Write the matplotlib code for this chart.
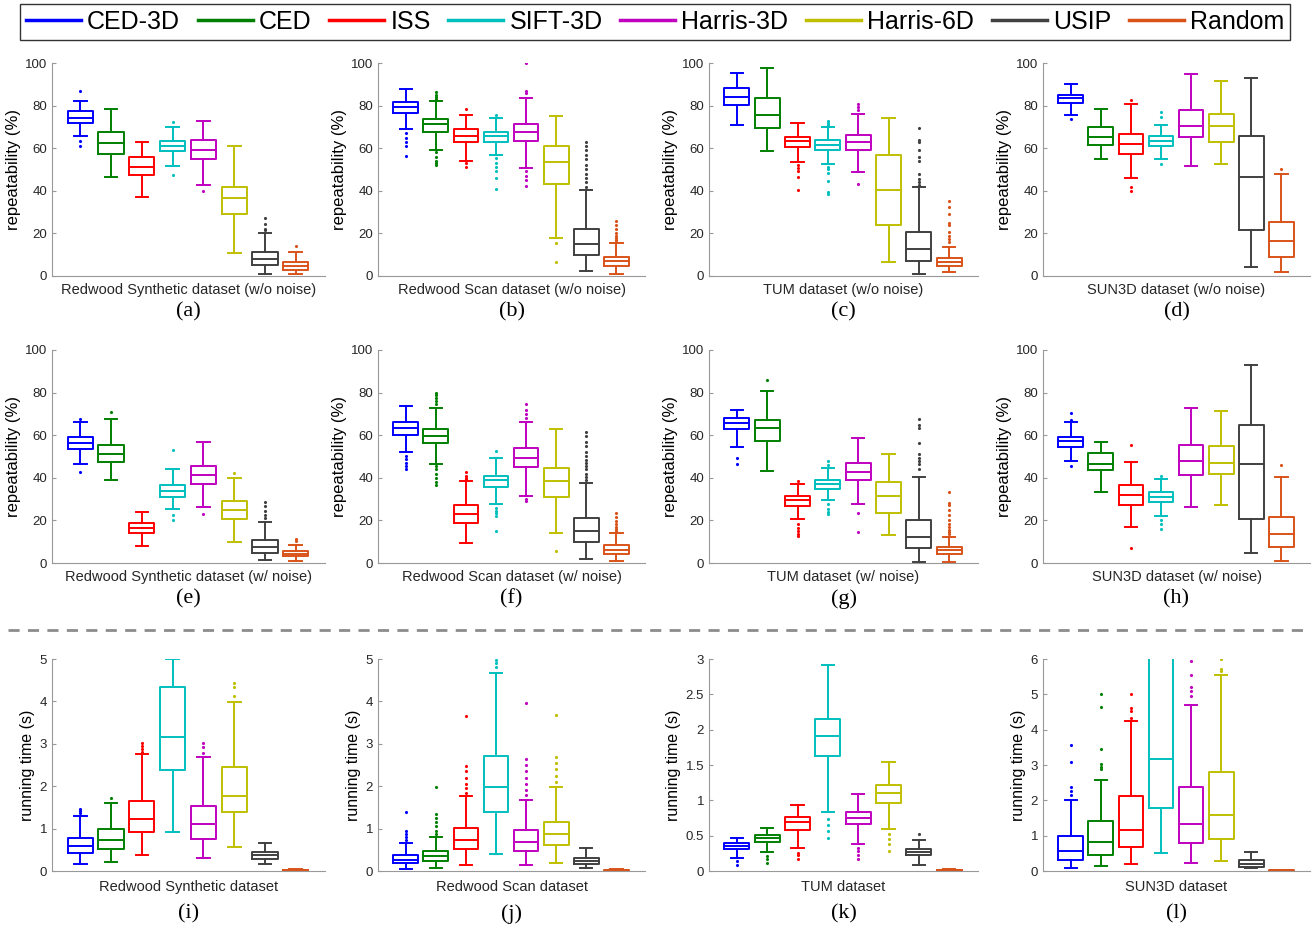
import matplotlib
matplotlib.use("Agg")
import matplotlib.pyplot as plt
from matplotlib.lines import Line2D
from matplotlib.ticker import FormatStrFormatter

plt.rcParams['font.family'] = ['Liberation Sans', 'DejaVu Sans']

methods = ["CED-3D", "CED", "ISS", "SIFT-3D", "Harris-3D", "Harris-6D", "USIP", "Random"]
colors = ["#0000ff", "#008000", "#ff0000", "#00bfbf", "#bf00bf", "#bfbf00", "#404040", "#d95319"]

# box stats per method: [whisker low, q1, median, q3, whisker high]
rep_a = [[65.9, 72.0, 74.3, 77.3, 82.0], [46.3, 57.3, 62.4, 67.8, 78.6], [37.1, 47.3, 51.3, 55.9, 62.8],
         [51.6, 58.5, 61.2, 63.4, 70.1], [42.9, 54.8, 59.0, 63.7, 72.6], [10.6, 29.1, 36.6, 41.9, 61.2],
         [1.1, 5.0, 8.0, 11.3, 20.0], [1.1, 3.0, 4.5, 6.4, 11.4]]
out_a = [[87, 63.4, 61], [], [], [72.3, 47.4], [39.9], [], [27.2, 24.6, 22.2, 21.4], [13.9]]

rep_b = [[68.9, 76.4, 79.5, 81.7, 87.7], [59.2, 67.8, 71.4, 73.9, 82.3], [54.2, 62.7, 65.9, 68.8, 75.8],
         [56.6, 63.1, 65.5, 67.7, 74.2], [50.8, 63.3, 67.5, 71.4, 83.6], [17.7, 43.0, 53.6, 60.8, 75.0],
         [2.2, 10.0, 15.2, 21.9, 40.3], [1.1, 4.7, 6.9, 9.1, 15.3]]
out_b = [[67, 65, 63, 61, 56.5], [86.4, 85, 84, 83, 58, 56, 54, 53, 52], [78.6, 53, 51],
         [75.8, 55.5, 53, 51, 49.5, 46, 40.8], [100, 86.7, 85.8, 49.2, 47, 45, 42.2], [15.6, 6.6],
         [63, 61, 59, 57, 55, 52, 50, 48, 46, 44, 42], [26, 24, 22, 20, 19, 18, 17, 16]]

rep_c = [[71.0, 80.4, 84.0, 88.3, 95.1], [58.7, 69.5, 75.7, 83.7, 97.8], [53.5, 60.6, 63.2, 65.1, 71.8],
         [52.6, 59.3, 61.7, 63.8, 70.0], [48.8, 59.2, 62.8, 66.2, 76.0], [6.4, 24.1, 40.2, 57.0, 74.2],
         [0.8, 7.0, 12.5, 20.7, 41.6], [1.9, 4.5, 6.6, 8.5, 13.8]]
out_c = [[], [], [52, 50.5, 49.5, 46.5, 40.4], [73, 72, 71, 51, 50, 48.5, 44.5, 39.5, 38.5],
         [80.9, 79.5, 78, 43.4], [], [69.5, 64, 63, 59, 56, 54, 48, 45.7, 44, 42.7],
         [35.2, 32.4, 29, 25, 23.8, 20.7, 19, 17.5, 16]]

rep_d = [[75.7, 81.4, 83.6, 85.1, 90.0], [54.8, 61.3, 65.3, 70.0, 78.6], [46.0, 57.3, 61.8, 66.8, 80.8],
         [55.1, 60.9, 63.5, 65.6, 70.7], [51.6, 65.1, 70.4, 77.8, 94.7], [52.7, 62.8, 70.6, 76.2, 91.4],
         [4.1, 21.6, 46.6, 65.7, 92.8], [1.9, 8.8, 16.4, 25.2, 48.0]]
out_d = [[73.9], [], [82.8, 41.8, 40], [76.8, 74.6, 52.7], [], [], [], [50.4]]

rep_e = [[46.4, 53.6, 56.3, 59.1, 66.3], [39.2, 47.2, 51.4, 55.6, 67.4], [8.0, 14.1, 16.5, 18.7, 23.8],
         [25.2, 31.0, 34.0, 36.7, 44.0], [26.5, 37.3, 41.4, 45.5, 56.7], [9.9, 20.8, 25.1, 29.0, 39.8],
         [1.3, 4.7, 7.4, 10.7, 19.1], [0.8, 3.1, 4.4, 5.5, 8.6]]
out_e = [[67.6, 42.9], [71], [], [53, 22.4, 20.4], [23.2], [42.3], [28.7, 26.8, 24.5, 22.4, 21.3], [11.4, 10.2]]

rep_f = [[52.0, 60.2, 63.6, 66.1, 73.8], [46.6, 56.4, 59.8, 63.1, 72.7], [9.5, 19.0, 23.0, 27.0, 38.3],
         [27.5, 35.6, 38.8, 40.9, 49.1], [31.6, 45.2, 49.4, 53.9, 66.1], [14.2, 30.9, 38.6, 44.4, 62.7],
         [1.9, 10.0, 14.8, 21.1, 37.7], [0.9, 4.2, 6.1, 8.4, 14.2]]
out_f = [[50.3, 48.8, 47, 45.5, 44], [80, 79, 77.5, 76, 74.5, 45.6, 44, 42, 40, 38, 36.7], [42.5, 41, 40, 39.4],
         [52.7, 26, 24.5, 23.5, 22, 15.2], [74.5, 72, 70, 68.3, 30, 29], [5.5],
         [61.7, 59.5, 57, 55, 52, 50, 48.5, 47, 45.5, 44, 42, 40.5, 39], [23.7, 21.5, 19.8, 18.5, 17, 16, 15.2]]

rep_g = [[54.5, 62.7, 65.9, 68.3, 71.7], [43.1, 57.3, 63.6, 67.3, 80.9], [20.5, 26.9, 29.4, 31.6, 36.9],
         [29.4, 34.7, 36.9, 38.8, 44.4], [27.8, 39.2, 42.7, 46.9, 58.6], [13.1, 23.4, 31.4, 38.1, 51.3],
         [0.5, 6.9, 12.3, 20.2, 40.5], [0.5, 4.2, 6.1, 7.7, 12.0]]
out_g = [[49.5, 46.7], [86], [38.4, 18.3, 16.5, 15, 13.8, 12.5], [48.1, 45.9, 27.6, 25.5, 24, 23],
         [23.3, 14.7], [], [67.8, 65, 63.3, 56.2, 51, 49.5, 48, 46.5, 44],
         [33.1, 28.4, 27, 25, 22.5, 20, 18.5, 17, 15.5, 14.4, 13.5]]

rep_h = [[48.0, 54.5, 57.1, 59.2, 66.1], [33.4, 43.6, 46.7, 51.6, 56.9], [16.8, 27.4, 31.8, 36.8, 47.3],
         [22.3, 28.8, 31.2, 33.2, 39.5], [26.3, 41.2, 48.1, 55.5, 72.9], [27.1, 42.0, 47.0, 55.0, 71.3],
         [4.9, 20.8, 46.4, 64.7, 92.9], [0.9, 7.7, 13.8, 21.5, 40.4]]
out_h = [[70.5, 67.1, 45.6], [], [55.6, 7.2], [40.9, 20.1, 18.5, 16.1], [], [], [], [46.1]]

time_i = [[0.17, 0.42, 0.59, 0.78, 1.29], [0.22, 0.51, 0.73, 0.99, 1.61], [0.38, 0.92, 1.23, 1.65, 2.76],
          [0.92, 2.38, 3.17, 4.34, 5.0], [0.31, 0.76, 1.11, 1.54, 2.69], [0.57, 1.38, 1.78, 2.46, 3.99],
          [0.16, 0.29, 0.38, 0.45, 0.66], [0.01, 0.015, 0.02, 0.03, 0.05]]
tout_i = [[1.47, 1.42, 1.37], [1.72], [3.03, 2.95, 2.87, 2.8], [], [3.03, 2.92, 2.78], [4.44, 4.35, 4.13], [], []]

time_j = [[0.05, 0.2, 0.27, 0.38, 0.65], [0.07, 0.23, 0.35, 0.46, 0.8], [0.15, 0.51, 0.74, 1.02, 1.76],
          [0.41, 1.39, 1.98, 2.71, 4.68], [0.15, 0.48, 0.69, 0.96, 1.68], [0.18, 0.61, 0.87, 1.16, 1.98],
          [0.07, 0.17, 0.23, 0.3, 0.54], [0.005, 0.01, 0.015, 0.02, 0.04]]
tout_j = [[1.4, 0.95, 0.88, 0.8, 0.72], [1.98, 1.34, 1.25, 1.15, 1.05, 0.95, 0.88],
          [3.65, 2.48, 2.35, 2.2, 2.05, 1.95, 1.85], [4.98, 4.9, 4.8],
          [3.96, 2.64, 2.5, 2.35, 2.2, 2.05, 1.9, 1.8], [3.68, 2.69, 2.55, 2.4, 2.25, 2.1], [], []]

time_k = [[0.19, 0.31, 0.36, 0.39, 0.47], [0.27, 0.41, 0.46, 0.51, 0.61], [0.32, 0.58, 0.69, 0.77, 0.94],
          [0.83, 1.63, 1.91, 2.15, 2.92], [0.38, 0.66, 0.75, 0.83, 1.09], [0.6, 0.96, 1.1, 1.21, 1.54],
          [0.09, 0.22, 0.27, 0.31, 0.44], [0.005, 0.01, 0.015, 0.02, 0.03]]
tout_k = [[0.14, 0.09], [0.21, 0.17, 0.12], [0.26, 0.22, 0.17], [0.73, 0.65, 0.57, 0.47],
          [0.33, 0.28, 0.23, 0.17], [0.52, 0.45, 0.38, 0.28], [0.52], []]

time_l = [[0.09, 0.31, 0.56, 1.0, 2.0], [0.14, 0.46, 0.81, 1.42, 2.58], [0.21, 0.69, 1.17, 2.11, 4.24],
          [0.5, 1.79, 3.18, 6.5, 10.0], [0.24, 0.79, 1.34, 2.39, 4.71], [0.28, 0.91, 1.58, 2.79, 5.55],
          [0.08, 0.12, 0.2, 0.3, 0.54], [0.005, 0.01, 0.015, 0.02, 0.04]]
tout_l = [[3.57, 3.09, 2.38, 2.27, 2.15], [5.0, 4.65, 3.45, 3.02, 2.95, 2.88], [5.0, 4.6, 4.54, 4.33], [],
          [5.95, 5.55, 5.2, 5.1, 4.95], [6.0, 5.72, 5.65], [], []]

panels = [
    (rep_a, out_a, "Redwood Synthetic dataset (w/o noise)", "(a)"),
    (rep_b, out_b, "Redwood Scan dataset (w/o noise)", "(b)"),
    (rep_c, out_c, "TUM dataset (w/o noise)", "(c)"),
    (rep_d, out_d, "SUN3D dataset (w/o noise)", "(d)"),
    (rep_e, out_e, "Redwood Synthetic dataset (w/ noise)", "(e)"),
    (rep_f, out_f, "Redwood Scan dataset (w/ noise)", "(f)"),
    (rep_g, out_g, "TUM dataset (w/ noise)", "(g)"),
    (rep_h, out_h, "SUN3D dataset (w/ noise)", "(h)"),
    (time_i, tout_i, "Redwood Synthetic dataset", "(i)"),
    (time_j, tout_j, "Redwood Scan dataset", "(j)"),
    (time_k, tout_k, "TUM dataset", "(k)"),
    (time_l, tout_l, "SUN3D dataset", "(l)"),
]
time_ymax = [5, 5, 3, 6]
time_yticks = [[0, 1, 2, 3, 4, 5], [0, 1, 2, 3, 4, 5], [0, 0.5, 1, 1.5, 2, 2.5, 3], [0, 1, 2, 3, 4, 5, 6]]

W, H = 1312, 930
fig = plt.figure(figsize=(13.12, 9.30), dpi=100)

lefts = [52, 378, 709, 1043]
rights = [325, 645, 978, 1310]
tops = [63, 350, 659]
bottoms = [276, 563, 871]
xlab_off = [14, 14, 16]
letter_off = [36, 36, 43]

for n, (stats, fl, xlabel, letter) in enumerate(panels):
    r, c = divmod(n, 4)
    ax = fig.add_axes([lefts[c] / W, 1 - bottoms[r] / H,
                       (rights[c] - lefts[c]) / W, (bottoms[r] - tops[r]) / H])
    bxp_stats = []
    for s, f in zip(stats, fl):
        bxp_stats.append(dict(whislo=s[0], q1=s[1], med=s[2], q3=s[3], whishi=s[4], fliers=f))
    parts = ax.bxp(bxp_stats, positions=range(1, 9), widths=0.82, patch_artist=False,
                   showfliers=True)
    for i, col in enumerate(colors):
        for key in ("boxes", "medians"):
            parts[key][i].set(color=col, linewidth=1.4)
        for j in (2 * i, 2 * i + 1):
            parts["whiskers"][j].set(color=col, linewidth=1.4, linestyle="-")
            parts["caps"][j].set(color=col, linewidth=1.4)
        parts["fliers"][i].set(marker=".", markersize=2.5, markerfacecolor=col,
                               markeredgecolor=col, linestyle="none")

    ax.set_xlim(0.08, 8.95)
    if r < 2:
        ax.set_ylim(0, 100)
        ax.set_yticks([0, 20, 40, 60, 80, 100])
        ax.set_ylabel("repeatability (%)", fontsize=12, labelpad=3)
    else:
        ax.set_ylim(0, time_ymax[c])
        ax.set_yticks(time_yticks[c])
        ax.yaxis.set_major_formatter(FormatStrFormatter("%g"))
        ax.set_ylabel("running time (s)", fontsize=11.5, labelpad=3)
    ax.set_xticks([])
    for side in ("top", "right"):
        ax.spines[side].set_visible(False)
    for side in ("left", "bottom"):
        ax.spines[side].set_color("#999999")
    ax.tick_params(axis="y", direction="in", length=3, color="#999999",
                   labelsize=9.5, labelcolor="#262626")
    ax.text(0.5, -xlab_off[r] / (bottoms[r] - tops[r]), xlabel, transform=ax.transAxes,
            ha="center", va="center", fontsize=10.5, color="#262626")
    ax.text(0.5, -letter_off[r] / (bottoms[r] - tops[r]), letter, transform=ax.transAxes,
            ha="center", va="center", fontsize=16, family="Liberation Serif")

# dashed separator between repeatability and running time
fig.add_artist(Line2D([8 / W, 1310 / W], [1 - 630 / H, 1 - 630 / H], color="#8c8c8c",
                      linestyle=(0, (4, 3)), linewidth=2))

handles = [Line2D([], [], color=col, linewidth=2.5) for col in colors]
leg = fig.legend(handles, methods, loc="center", bbox_to_anchor=(655 / W, 1 - 22 / H), ncol=8,
                 fontsize=18, frameon=True, fancybox=False, edgecolor="black",
                 handlelength=2.2, handletextpad=0.25, columnspacing=0.7,
                 borderpad=0.25, borderaxespad=0)
leg.get_frame().set_linewidth(1.0)

fig.savefig("out.png", dpi=100)
